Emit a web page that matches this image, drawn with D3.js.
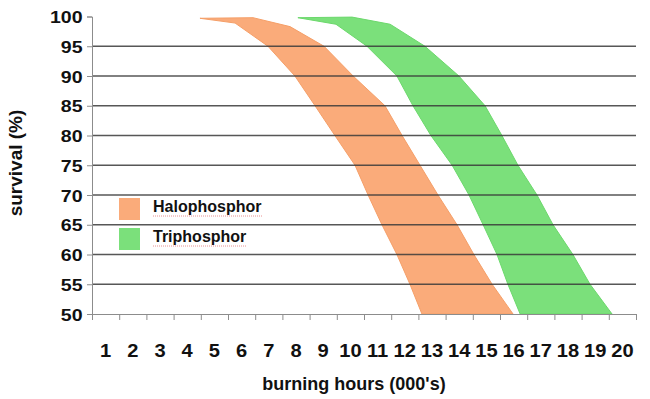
<!DOCTYPE html>
<html>
<head>
<meta charset="utf-8">
<script src="https://cdn.jsdelivr.net/npm/d3@7/dist/d3.min.js"></script>
<style>
  body { margin: 0; background: #fff; }
  text { font-family: Arial, "Liberation Sans", sans-serif; font-weight: bold; }
</style>
</head>
<body>
<svg id="chart" width="650" height="399"></svg>
<script>
// lamp survival bands, hours in thousands

var hourLabels = d3.range(1, 21),
  survivalTicks = [50, 55, 60, 65, 70, 75, 80, 85, 90, 95, 100],
  gridLevels = [55, 60, 65, 70, 75, 80, 85, 90, 95];

// halophosphor band edges
var haloLowHours = [4.47, 5.76, 6.97, 7.96, 8.70, 9.43, 10.17, 10.65, 11.16, 11.71, 12.19, 12.63],
  haloLowSurvival = [99.7, 98.9, 95, 90, 85, 80, 75, 70, 65, 60, 55, 50],
  haloHighHours = [6.42, 7.78, 9.03, 10.10, 11.27, 11.90, 12.56, 13.22, 13.92, 14.54, 15.21, 15.98],
  haloHighSurvival = [99.8, 98.3, 95, 90, 85, 80, 75, 70, 65, 60, 55, 50];

// triphosphor band edges
var triLowHours = [8.07, 9.47, 10.61, 11.71, 12.30, 12.96, 13.74, 14.36, 14.88, 15.39, 15.79, 16.24],
  triLowSurvival = [99.8, 98.7, 95, 90, 85, 80, 75, 70, 65, 60, 55, 50],
  triHighHours = [10.06, 11.46, 12.74, 13.99, 14.95, 15.57, 16.16, 16.86, 17.45, 18.18, 18.81, 19.62],
  triHighSurvival = [99.9, 98.7, 95, 90, 85, 80, 75, 70, 65, 60, 55, 50];

var seriesNames = ['Halophosphor', 'Triphosphor'];

var ORANGE = '#faab7a',
  GREEN = '#7be07b',
  LEFT = 92,
  RIGHT = 636,
  TOP = 16.5,
  BOTTOM = 314,
  WIDE = 1.15; // tick labels look horizontally stretched

var svg = d3.select('#chart');

var x = d3.scaleLinear().domain([0.5, 20.5]).range([LEFT, RIGHT]);
var y = d3.scaleLinear().domain([50, 100]).range([BOTTOM, TOP]);

function band(lowH, lowS, highH, highS) {
  var pts = [];
  for (var i = 0; i < lowH.length; i++) pts.push([lowH[i], lowS[i]]);
  for (var j = highH.length - 1; j >= 0; j--) pts.push([highH[j], highS[j]]);
  return pts;
}

var line = d3.line()
  .x(function(d) { return x(d[0]); })
  .y(function(d) { return y(d[1]); });

// bands
var bands = [
  { pts: band(haloLowHours, haloLowSurvival, haloHighHours, haloHighSurvival), fill: ORANGE, stroke: '#f59f68' },
  { pts: band(triLowHours, triLowSurvival, triHighHours, triHighSurvival), fill: GREEN, stroke: '#6cd86c' }
];

svg.append('g')
  .selectAll('path')
  .data(bands)
  .enter()
  .append('path')
  .attr('d', function(d) { return line(d.pts) + 'Z'; })
  .attr('fill', function(d) { return d.fill; })
  .attr('stroke', function(d) { return d.stroke; })
  .attr('stroke-width', 1)
  .attr('stroke-linejoin', 'round');

// gridlines, they show through the bands
svg.append('g')
  .selectAll('line')
  .data(gridLevels)
  .enter()
  .append('line')
  .attr('x1', LEFT)
  .attr('x2', RIGHT)
  .attr('y1', function(d) { return y(d); })
  .attr('y2', function(d) { return y(d); })
  .attr('stroke', '#3a3a3a')
  .attr('stroke-opacity', 0.85)
  .attr('stroke-width', 1.3);

// y axis
var yAxis = svg.append('g')
  .attr('transform', 'translate(' + LEFT + ',0)')
  .call(d3.axisLeft(y).tickValues(survivalTicks).tickSize(5).tickPadding(5));
yAxis.select('.domain').attr('stroke', '#8c8c8c');
yAxis.selectAll('.tick line').attr('stroke', '#8c8c8c');
yAxis.selectAll('text')
  .style('font-size', '17px')
  .attr('fill', '#111')
  .attr('x', -9.5 / WIDE)
  .attr('dy', '0.36em')
  .attr('transform', 'scale(' + WIDE + ',1)');

// x axis tick marks at category boundaries
var xAxis = svg.append('g')
  .attr('transform', 'translate(0,' + BOTTOM + ')')
  .call(d3.axisBottom(x).tickValues(d3.range(0.5, 21, 1)).tickSize(6).tickFormat(''));
xAxis.select('.domain').attr('stroke', '#8c8c8c');
xAxis.selectAll('.tick line').attr('stroke', '#8c8c8c');

// x labels in the middle of categories
svg.append('g')
  .selectAll('g')
  .data(hourLabels)
  .enter()
  .append('g')
  .attr('transform', function(d) { return 'translate(' + x(d) + ',357) scale(' + WIDE + ',1)'; })
  .append('text')
  .style('font-size', '17.5px')
  .style('text-anchor', 'middle')
  .attr('fill', '#111')
  .text(function(d) { return d; });

// axis titles
svg.append('text')
  .attr('x', 354)
  .attr('y', 390)
  .style('font-size', '18px')
  .style('text-anchor', 'middle')
  .attr('fill', '#111')
  .text("burning hours (000's)");

svg.append('text')
  .attr('transform', 'translate(22,163) rotate(-90)')
  .style('font-size', '19px')
  .style('text-anchor', 'middle')
  .attr('fill', '#111')
  .text('survival (%)');

// legend
var legend = svg.append('g')
  .selectAll('g')
  .data(seriesNames)
  .enter()
  .append('g')
  .attr('transform', function(d, i) { return 'translate(119,' + (198 + i * 30) + ')'; });

legend.append('rect')
  .attr('width', 21)
  .attr('height', 22)
  .attr('fill', function(d, i) { return i === 0 ? ORANGE : GREEN; });

legend.append('text')
  .attr('x', 34)
  .attr('y', 14)
  .style('font-size', '16px')
  .attr('fill', '#111')
  .text(function(d) { return d; });

// spell-check squiggle under the legend words
legend.append('line')
  .attr('x1', 34)
  .attr('x2', function(d, i) { return i === 0 ? 143 : 128; })
  .attr('y1', 18)
  .attr('y2', 18)
  .attr('stroke', '#d94a4a')
  .attr('stroke-opacity', 0.6)
  .attr('stroke-width', 1)
  .attr('stroke-dasharray', '1,1');
</script>
</body>
</html>
